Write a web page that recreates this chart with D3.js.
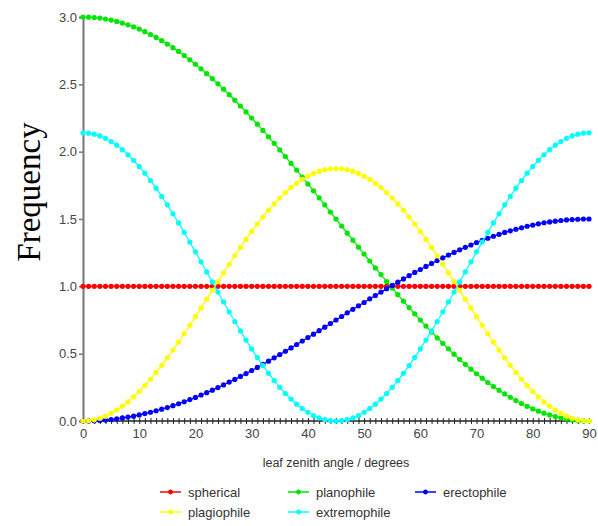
<!DOCTYPE html>
<html lang="en">
  <head>
    <meta charset="utf-8">
    <title>Leaf angle distributions</title>
    <style>
      body { margin: 0; background: #fff; }
      svg text { font-family: "Liberation Sans", Arial, sans-serif; }
    </style>
  </head>
  <body>
    <div id="chart"></div>
  </body>
  <script src="https://cdn.jsdelivr.net/npm/d3@7"></script>
  <script type="text/javascript">
    // leaf zenith angle, 0..90 degrees, one point per degree
    var angles = d3.range(0, 91);

    var spherical = angles.map(function() { return 1.0; });

    var planophile = [
      3.000, 2.999, 2.996, 2.992, 2.985, 2.977, 2.967, 2.955, 2.942, 2.927,
      2.910, 2.891, 2.870, 2.848, 2.824, 2.799, 2.772, 2.744, 2.714, 2.682,
      2.649, 2.615, 2.579, 2.542, 2.504, 2.464, 2.423, 2.382, 2.339, 2.295,
      2.250, 2.204, 2.158, 2.110, 2.062, 2.013, 1.964, 1.913, 1.863, 1.812,
      1.760, 1.709, 1.657, 1.605, 1.552, 1.500, 1.448, 1.395, 1.343, 1.291,
      1.240, 1.188, 1.137, 1.087, 1.036, 0.987, 0.938, 0.890, 0.842, 0.796,
      0.750, 0.705, 0.661, 0.618, 0.577, 0.536, 0.496, 0.458, 0.421, 0.385,
      0.351, 0.318, 0.286, 0.256, 0.228, 0.201, 0.176, 0.152, 0.130, 0.109,
      0.090, 0.073, 0.058, 0.045, 0.033, 0.023, 0.015, 0.008, 0.004, 0.001,
      0.000
    ];

    var erectophile = [
      0.000, 0.000, 0.002, 0.004, 0.007, 0.011, 0.016, 0.023, 0.029, 0.036,
      0.045, 0.055, 0.065, 0.076, 0.088, 0.100, 0.114, 0.128, 0.143, 0.159,
      0.175, 0.193, 0.210, 0.229, 0.248, 0.268, 0.289, 0.309, 0.331, 0.352,
      0.375, 0.398, 0.421, 0.444, 0.469, 0.493, 0.518, 0.543, 0.568, 0.594,
      0.620, 0.645, 0.671, 0.697, 0.724, 0.750, 0.776, 0.803, 0.829, 0.855,
      0.880, 0.907, 0.932, 0.957, 0.982, 1.007, 1.031, 1.055, 1.079, 1.103,
      1.125, 1.148, 1.170, 1.191, 1.212, 1.232, 1.252, 1.271, 1.290, 1.307,
      1.325, 1.341, 1.357, 1.372, 1.386, 1.400, 1.412, 1.424, 1.435, 1.446,
      1.455, 1.464, 1.472, 1.478, 1.484, 1.489, 1.493, 1.496, 1.498, 1.500,
      1.500
    ];

    var plagiophile = [
      0.000, 0.002, 0.009, 0.020, 0.036, 0.057, 0.081, 0.110, 0.142, 0.179,
      0.219, 0.263, 0.310, 0.360, 0.413, 0.469, 0.527, 0.586, 0.648, 0.711,
      0.775, 0.840, 0.905, 0.970, 1.035, 1.100, 1.164, 1.227, 1.289, 1.348,
      1.406, 1.462, 1.515, 1.565, 1.612, 1.656, 1.696, 1.733, 1.765, 1.794,
      1.818, 1.839, 1.855, 1.866, 1.873, 1.875, 1.873, 1.866, 1.855, 1.839,
      1.818, 1.794, 1.765, 1.733, 1.696, 1.656, 1.612, 1.565, 1.515, 1.462,
      1.406, 1.348, 1.289, 1.227, 1.164, 1.100, 1.035, 0.970, 0.905, 0.840,
      0.775, 0.711, 0.648, 0.586, 0.527, 0.469, 0.413, 0.360, 0.310, 0.263,
      0.219, 0.179, 0.142, 0.110, 0.081, 0.057, 0.036, 0.020, 0.009, 0.002,
      0.000
    ];

    var extremophile = [
      2.140, 2.137, 2.130, 2.117, 2.099, 2.075, 2.048, 2.015, 1.977, 1.936,
      1.890, 1.840, 1.786, 1.729, 1.668, 1.605, 1.539, 1.471, 1.401, 1.329,
      1.256, 1.182, 1.107, 1.033, 0.958, 0.884, 0.811, 0.739, 0.669, 0.601,
      0.535, 0.472, 0.411, 0.354, 0.300, 0.250, 0.204, 0.163, 0.125, 0.093,
      0.065, 0.041, 0.023, 0.010, 0.003, 0.000, 0.003, 0.010, 0.023, 0.041,
      0.065, 0.093, 0.125, 0.163, 0.204, 0.250, 0.300, 0.354, 0.411, 0.472,
      0.535, 0.601, 0.669, 0.739, 0.811, 0.884, 0.958, 1.033, 1.107, 1.182,
      1.256, 1.329, 1.401, 1.471, 1.539, 1.605, 1.668, 1.729, 1.786, 1.840,
      1.890, 1.936, 1.977, 2.015, 2.048, 2.075, 2.099, 2.117, 2.130, 2.137,
      2.140
    ];

    var seriesNames = ["spherical", "planophile", "erectophile", "plagiophile", "extremophile"];
    var seriesValues = [spherical, planophile, erectophile, plagiophile, extremophile];
    var seriesColors = ["#ff0000", "#00e600", "#0000ff", "#ffff00", "#00ffff"];

    var xTicks = [0, 10, 20, 30, 40, 50, 60, 70, 80, 90];
    var yTicks = [0.0, 0.5, 1.0, 1.5, 2.0, 2.5, 3.0];

    var width = 598;
    var height = 526;

    var svg = d3.select("#chart")
      .append("svg")
      .attr("width", width)
      .attr("height", height);

    var x = d3.scaleLinear().domain([0, 90]).range([83, 589]);
    var y = d3.scaleLinear().domain([0, 3]).range([421, 17]);

    // y axis (grey)
    var gy = svg.append("g")
      .attr("transform", "translate(" + x(0) + ",0)")
      .call(d3.axisLeft(y).tickValues(yTicks).tickFormat(d3.format(".1f")).tickSize(4).tickPadding(2));
    gy.select(".domain").attr("stroke", "#777").attr("stroke-width", 2);
    gy.selectAll(".tick line").attr("stroke", "#777").attr("stroke-width", 1.5);
    gy.selectAll(".tick text")
      .attr("fill", "#444")
      .style("font-size", "13px");

    // x axis: minor ticks every degree, crossing the line
    var gx = svg.append("g")
      .attr("transform", "translate(0," + y(0) + ")");
    gx.append("g")
      .call(d3.axisBottom(x).tickValues(angles).tickSize(3).tickFormat(""))
      .call(function(g) {
        g.select(".domain").remove();
        g.selectAll(".tick line").attr("y1", -3).attr("stroke", "#222");
      });
    gx.append("line")
      .attr("x1", x(0)).attr("x2", x(90))
      .attr("stroke", "#222").attr("stroke-width", 1.5);
    gx.append("g")
      .call(d3.axisBottom(x).tickValues(xTicks).tickSize(0).tickPadding(8))
      .call(function(g) {
        g.select(".domain").remove();
        g.selectAll(".tick text").attr("fill", "#444").style("font-size", "13px");
      });

    // axis titles
    svg.append("text")
      .attr("x", 336)
      .attr("y", 467)
      .attr("text-anchor", "middle")
      .attr("fill", "#333")
      .style("font-size", "12.5px")
      .text("leaf zenith angle / degrees");

    svg.append("text")
      .attr("transform", "translate(40,192) rotate(-90)")
      .attr("text-anchor", "middle")
      .style("font-family", "'Liberation Serif', 'Times New Roman', serif")
      .style("font-size", "33px")
      .attr("fill", "#000")
      .text("Frequency");

    // series
    var line = d3.line()
      .x(function(d, i) { return x(angles[i]); })
      .y(function(d) { return y(d); });

    var gSeries = svg.append("g");
    seriesValues.forEach(function(vals, k) {
      var g = gSeries.append("g");
      g.append("path")
        .attr("d", line(vals))
        .attr("fill", "none")
        .attr("stroke", seriesColors[k])
        .attr("stroke-width", 1.2);
      g.selectAll("circle")
        .data(vals)
        .enter()
        .append("circle")
        .attr("cx", function(d, i) { return x(angles[i]); })
        .attr("cy", function(d) { return y(d); })
        .attr("r", 2.6)
        .attr("fill", seriesColors[k]);
    });

    // legend
    var legendCols = [160, 288, 415];
    var legendRows = [492, 512];
    var gLegend = svg.append("g");
    seriesNames.forEach(function(name, k) {
      var lx = legendCols[k % 3];
      var ly = legendRows[Math.floor(k / 3)];
      var item = gLegend.append("g").attr("transform", "translate(" + lx + "," + ly + ")");
      item.append("line")
        .attr("x1", 0).attr("x2", 21)
        .attr("stroke", seriesColors[k]).attr("stroke-width", 1.5);
      item.append("circle")
        .attr("cx", 10.5).attr("r", 2.4)
        .attr("fill", seriesColors[k]);
      item.append("text")
        .attr("x", 28)
        .attr("dy", "0.35em")
        .attr("fill", "#333")
        .style("font-size", "13px")
        .text(name);
    });
  </script>
</html>
